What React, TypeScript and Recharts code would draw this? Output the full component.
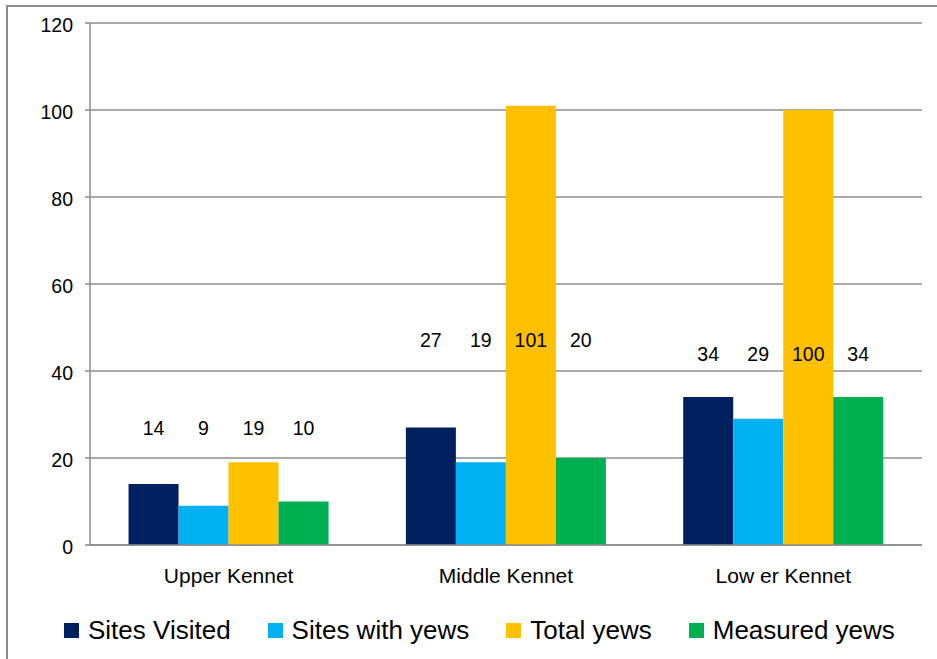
import React from 'react';
import { BarChart, Bar, XAxis, YAxis, CartesianGrid, Legend } from 'recharts';

const categories = ['Upper Kennet', 'Middle Kennet', 'Low er Kennet'];
const sitesVisited = [14, 27, 34];
const sitesWithYews = [9, 19, 29];
const totalYews = [19, 101, 100];
const measuredYews = [10, 20, 34];
const yTicks = [0, 20, 40, 60, 80, 100, 120];
const boundaryTicks = [0, 1, 2, 3];
// height (in value units) at which each category's data labels sit
const labelLevels = [25.3, 45.5, 42.3];

const seriesNames = ['Sites Visited', 'Sites with yews', 'Total yews', 'Measured yews'];
const seriesKeys = ['visited', 'withYews', 'total', 'measured'];
const seriesColors = ['#002060', '#00B0F0', '#FFC000', '#00B050'];

const data = categories.map((name, i) => ({
  name,
  visited: sitesVisited[i],
  withYews: sitesWithYews[i],
  total: totalYews[i],
  measured: measuredYews[i],
}));

const FONT = '"Liberation Sans", Arial, sans-serif';
const GRAY = '#8c8c8c';

const makeLabel = (props: any) => {
  const { x, y, width, height, value, index } = props;
  if (value == null || !height) return null;
  const base = y + height;
  const perUnit = height / value;
  const ly = base - labelLevels[index] * perUnit;
  return (
    <text
      x={x + width / 2}
      y={ly}
      textAnchor="middle"
      fontSize={19.5}
      fontFamily={FONT}
      fill="#000"
    >
      {value}
    </text>
  );
};

const LegendContent = () => (
  <div
    style={{
      display: 'flex',
      alignItems: 'center',
      paddingLeft: 64,
      fontFamily: FONT,
      fontSize: 26,
      color: '#000',
      whiteSpace: 'nowrap',
    }}
  >
    {seriesNames.map((n, i) => (
      <div key={n} style={{ display: 'flex', alignItems: 'center', marginRight: 37 }}>
        <span
          style={{
            display: 'inline-block',
            width: 15,
            height: 15,
            background: seriesColors[i],
            marginRight: 9,
          }}
        />
        <span>{n}</span>
      </div>
    ))}
  </div>
);

export default function App() {
  return (
    <div
      style={{
        position: 'fixed',
        left: 0,
        top: 0,
        width: 937,
        height: 659,
        overflow: 'hidden',
        background: '#fff',
      }}
    >
      <div
        style={{
          position: 'absolute',
          left: 6,
          top: 5,
          width: 960,
          height: 700,
          border: `2px solid ${GRAY}`,
          boxSizing: 'border-box',
        }}
      />
      <div style={{ position: 'absolute', left: 0, top: 0 }}>
        <BarChart
          width={937}
          height={659}
          data={data}
          margin={{ top: 23, right: 15, bottom: 84, left: 30 }}
          barCategoryGap="13.9%"
          barGap={0}
        >
          <CartesianGrid vertical={false} stroke={GRAY} strokeWidth={1.5} />
          <XAxis
            xAxisId="b"
            type="number"
            domain={[0, 3]}
            ticks={boundaryTicks}
            tick={false}
            tickSize={6}
            axisLine={false}
            tickLine={{ stroke: GRAY, strokeWidth: 1.5 }}
            height={0}
          />
          <XAxis
            dataKey="name"
            xAxisId="c"
            tickLine={false}
            tickSize={6}
            tickMargin={17}
            axisLine={{ stroke: GRAY, strokeWidth: 1.5 }}
            tick={{ fontSize: 21, fill: '#000', fontFamily: FONT }}
            height={30}
            interval={0}
          />
          <YAxis
            domain={[0, 120]}
            ticks={yTicks}
            width={60}
            tickSize={5}
            tickMargin={12}
            axisLine={{ stroke: GRAY, strokeWidth: 1.5 }}
            tickLine={{ stroke: GRAY, strokeWidth: 1.5 }}
            tick={{ fontSize: 19.5, fill: '#000', fontFamily: FONT, dy: 2 }}
            interval={0}
          />
          <Legend
            layout="horizontal"
            verticalAlign="middle"
            align="center"
            content={<LegendContent />}
            wrapperStyle={{ left: 0, top: 615, width: 937, height: 30 }}
          />
          {seriesKeys.map((k, i) => (
            <Bar
              key={k}
              dataKey={k}
              name={seriesNames[i]}
              xAxisId="c"
              fill={seriesColors[i]}
              isAnimationActive={false}
              label={makeLabel}
            />
          ))}
        </BarChart>
      </div>
    </div>
  );
}
